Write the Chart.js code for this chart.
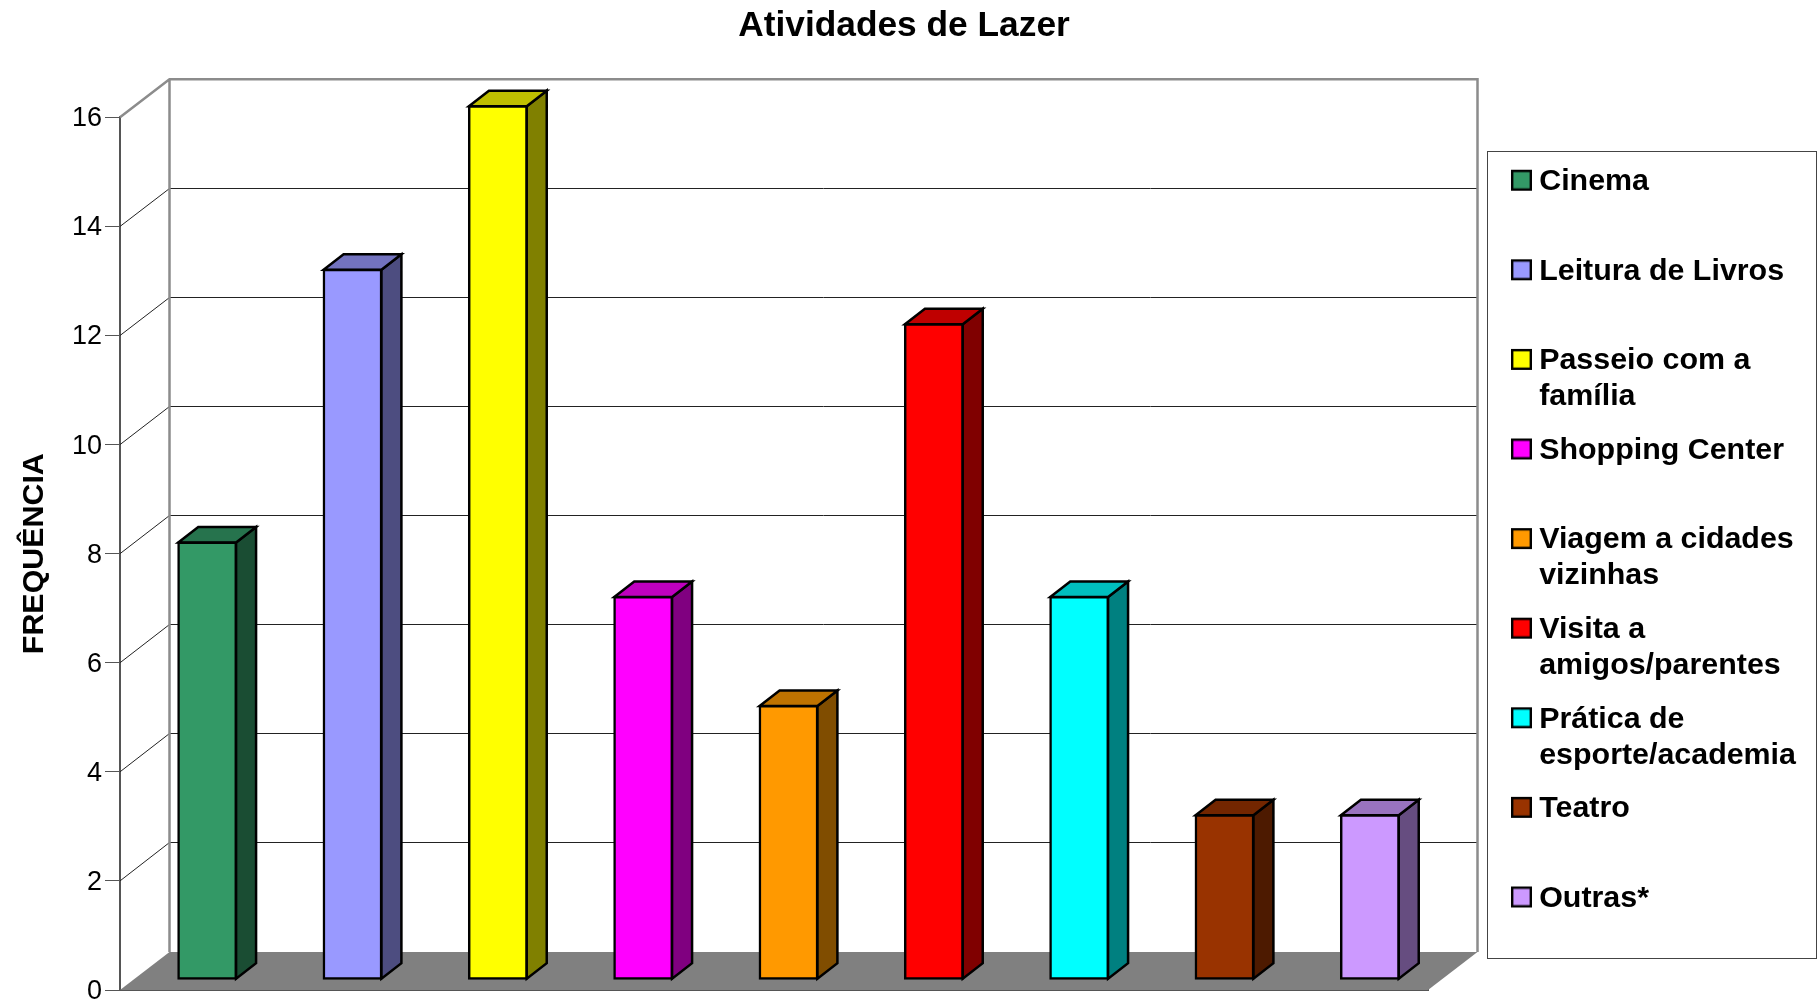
<!DOCTYPE html>
<html lang="pt">
<head>
<meta charset="utf-8">
<title>Atividades de Lazer</title>
<script src="https://cdn.jsdelivr.net/npm/chart.js@4/dist/chart.umd.js"></script>
<style>
    html, body { margin: 0; padding: 0; background: #fff; }
    canvas { display: block; }
</style>
</head>
<body>
<canvas id="chartLazer" width="1818" height="1000"></canvas>
<script>
const titleText = 'Atividades de Lazer';
const yTitle = 'FREQUÊNCIA';
// Two lines each, the second may be empty: keeps the legend rows evenly spaced.
const legendLines = [
    ['Cinema', ''],
    ['Leitura de Livros', ''],
    ['Passeio com a', 'família'],
    ['Shopping Center', ''],
    ['Viagem a cidades', 'vizinhas'],
    ['Visita a', 'amigos/parentes'],
    ['Prática de', 'esporte/academia'],
    ['Teatro', ''],
    ['Outras*', ''],
];
const categories = legendLines.map((l) => l.join(' ').trim());
const frequencies = [8, 13, 16, 7, 5, 12, 7, 3, 3];
const barColors = ['#339966', '#9999ff', '#ffff00', '#ff00ff', '#ff9900', '#ff0000', '#00ffff', '#993300', '#cc99ff'];

const FONT = '"Liberation Sans", Arial, sans-serif';
const WALL = { dx: 49.5, dy: -38 }; // depth of the box the chart sits in
const BAR_SHIFT = { dx: 14.5, dy: -11 }; // bars stand a little behind the front edge
const BAR_DEPTH = { dx: 20, dy: -15.5 };
const LEGEND_FRAME = { left: 1487, top: 151, right: 1817, bottom: 959 };

const shade = (hex, f) => {
    const n = parseInt(hex.slice(1), 16);
    return `rgb(${((n >> 16) & 255) * f},${((n >> 8) & 255) * f},${(n & 255) * f})`;
};

const poly = (ctx, pts, fill, stroke, width) => {
    ctx.beginPath();
    pts.forEach((p, i) => (i ? ctx.lineTo(p[0], p[1]) : ctx.moveTo(p[0], p[1])));
    ctx.closePath();
    if (fill) {
        ctx.fillStyle = fill;
        ctx.fill();
    }
    if (stroke) {
        ctx.strokeStyle = stroke;
        ctx.lineWidth = width;
        ctx.lineJoin = 'miter';
        ctx.stroke();
    }
};

// Legend swatch as a small canvas, the native legend draws it as a point style.
const swatch = (color) => {
    const c = document.createElement('canvas');
    c.width = 23;
    c.height = 26;
    const g = c.getContext('2d');
    g.fillStyle = color;
    g.fillRect(3, 2, 19, 19);
    g.strokeStyle = '#000';
    g.lineWidth = 2.4;
    g.strokeRect(3.2, 2.2, 18.6, 18.6);
    return c;
};
const swatches = barColors.map(swatch);

// Fake 3D: walls, floor and grid behind the bars, then side and top of each bar.
const box3d = {
    id: 'box3d',
    afterInit(chart) {
        const legend = chart.legend;
        const fit = legend.fit;
        legend.fit = function () {
            fit.call(this);
            this.width = 380;
        };
    },
    afterLayout(chart) {
        const legend = chart.legend;
        const pad = legend.options.labels.padding;
        legend.left = 1517 - pad;
        legend.right = 1818;
        legend.top = 166.5 - pad;
        legend.bottom = 1000;
    },
    beforeDraw(chart) {
        const { ctx } = chart;
        ctx.save();
        ctx.strokeStyle = '#444';
        ctx.lineWidth = 1;
        ctx.strokeRect(LEGEND_FRAME.left + 0.5, LEGEND_FRAME.top + 0.5, LEGEND_FRAME.right - LEGEND_FRAME.left - 1, LEGEND_FRAME.bottom - LEGEND_FRAME.top - 1);
        ctx.restore();
    },
    beforeDatasetsDraw(chart) {
        const { ctx, chartArea: { left, right, top, bottom }, scales: { y } } = chart;
        const backL = left + WALL.dx;
        const backR = right + WALL.dx;
        ctx.save();

        y.ticks.forEach((tick) => {
            if (tick.value === 0 || tick.value === y.max) return;
            const py = y.getPixelForValue(tick.value);
            const backY = Math.floor(py + WALL.dy) + 0.5;
            ctx.beginPath();
            ctx.moveTo(left, py);
            ctx.lineTo(backL, backY);
            ctx.lineTo(backR, backY);
            ctx.strokeStyle = '#222';
            ctx.lineWidth = 1;
            ctx.stroke();
        });

        ctx.beginPath();
        ctx.moveTo(left, top);
        ctx.lineTo(backL, top + WALL.dy);
        ctx.lineTo(backR, top + WALL.dy);
        ctx.lineTo(backR, bottom + WALL.dy);
        ctx.moveTo(backL, top + WALL.dy);
        ctx.lineTo(backL, bottom + WALL.dy);
        ctx.strokeStyle = '#8c8c8c';
        ctx.lineWidth = 2.5;
        ctx.stroke();

        poly(ctx, [[left, bottom], [right, bottom], [backR, bottom + WALL.dy], [backL, bottom + WALL.dy]], '#808080');

        // Stays translated until afterDatasetsDraw so the bars land on the floor.
        ctx.translate(BAR_SHIFT.dx, BAR_SHIFT.dy);
        chart.getDatasetMeta(0).data.forEach((bar, i) => {
            const x1 = bar.x - bar.width / 2 - 0.2;
            const x2 = bar.x + bar.width / 2 + 0.2;
            const yTop = bar.y - 0.2;
            const yBase = bar.base + 0.2;
            const d = BAR_DEPTH;
            poly(ctx, [[x2, yTop], [x2 + d.dx, yTop + d.dy], [x2 + d.dx, yBase + d.dy], [x2, yBase]], shade(barColors[i], 0.5), '#000', 2.5);
            poly(ctx, [[x1, yTop], [x1 + d.dx, yTop + d.dy], [x2 + d.dx, yTop + d.dy], [x2, yTop]], shade(barColors[i], 0.75), '#000', 2.5);
        });
    },
    afterDatasetsDraw(chart) {
        chart.ctx.restore();
    },
};

new Chart(document.getElementById('chartLazer'), {
    type: 'bar',
    data: {
        labels: categories,
        datasets: [{
            data: frequencies,
            backgroundColor: barColors,
            borderColor: '#000',
            borderWidth: 2.5,
            borderSkipped: false,
            inflateAmount: 1.2,
            categoryPercentage: 1,
            barPercentage: 0.395,
            clip: false,
        }],
    },
    plugins: [box3d],
    options: {
        responsive: false,
        animation: false,
        events: [],
        layout: { padding: { left: 0, right: 10, top: 0, bottom: 10 } },
        plugins: {
            tooltip: { enabled: false },
            title: {
                display: true,
                text: titleText,
                color: '#000',
                font: { family: FONT, size: 35.3, weight: 'bold', lineHeight: 1.2 },
                padding: { top: 5, bottom: 70 },
            },
            legend: {
                position: 'right',
                align: 'start',
                labels: {
                    color: '#000',
                    font: { family: FONT, size: 30.4, weight: 'bold', lineHeight: 1.18 },
                    padding: 17.85,
                    usePointStyle: true,
                    pointStyleWidth: 7,
                    generateLabels: () => legendLines.map((text, i) => ({
                        text,
                        pointStyle: swatches[i],
                        fontColor: '#000',
                        hidden: false,
                        index: i,
                        lineWidth: 0,
                    })),
                },
            },
        },
        scales: {
            x: {
                ticks: { display: false },
                grid: { drawOnChartArea: false, drawTicks: false },
                border: { color: '#555', width: 2 },
            },
            y: {
                min: 0,
                max: 16,
                ticks: {
                    stepSize: 2,
                    color: '#000',
                    padding: 3,
                    labelOffset: 1.5,
                    font: { family: FONT, size: 27 },
                },
                grid: { drawOnChartArea: false, tickLength: 15, color: '#555' },
                border: { color: '#555', width: 2 },
                title: {
                    display: true,
                    text: yTitle,
                    color: '#000',
                    font: { family: FONT, size: 30.4, weight: 'bold', lineHeight: 1.2 },
                    padding: { top: 16, bottom: 0 },
                },
                afterFit(scale) {
                    scale.width = 120;
                    scale.paddingTop = 0;
                    scale.paddingBottom = 0;
                },
            },
        },
    },
});
</script>
</body>
</html>
